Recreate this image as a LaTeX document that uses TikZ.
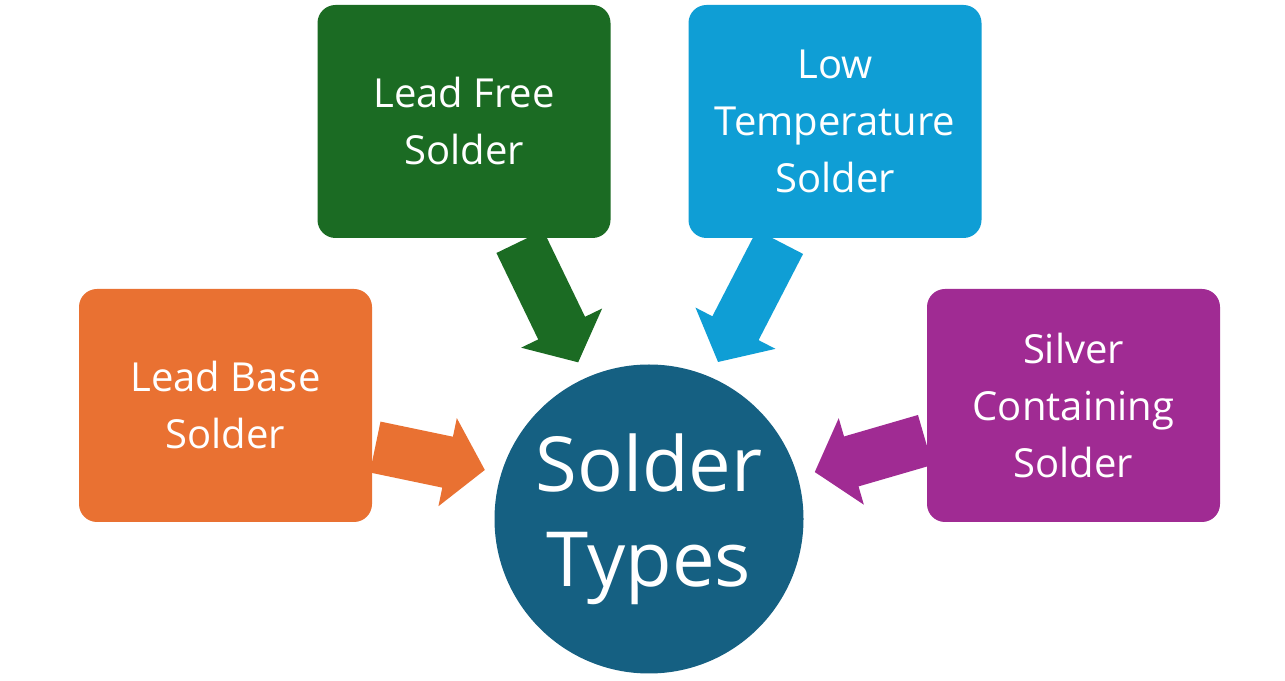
\documentclass[tikz,border=0pt]{standalone}
\usepackage{fontspec}
\setmainfont{Open Sans}
\begin{document}
\begin{tikzpicture}[x=1pt,y=1pt,
  box/.style={rounded corners=18pt,minimum width=293pt,minimum height=233pt,text=white,align=center,font=\fontsize{40}{57}\selectfont,inner sep=0pt},
  arr/.style={fill=#1,draw=none}]
\fill[white] (0,0) rectangle (1285,680);
\useasboundingbox (0,0) rectangle (1285,680);
\definecolor{cor}{HTML}{E97132}
\definecolor{cgr}{HTML}{1B6B23}
\definecolor{cbl}{HTML}{0F9ED5}
\definecolor{cpu}{HTML}{A02B93}
\definecolor{cci}{HTML}{156082}
\node[box,fill=cor] (lb) at (225.5,274.5) {Lead Base\\Solder};
\node[box,fill=cgr] (lf) at (464,558.5) {Lead Free\\Solder};
\node[box,fill=cbl] (lt) at (835,558.5) {Low\\Temperature\\Solder};
\node[box,fill=cpu] (sc) at (1073.5,274.5) {Silver\\Containing\\Solder};
\node[circle,fill=cci,minimum size=309pt,inner sep=0pt,text=white,align=center,font=\fontsize{76}{95}\selectfont] (st) at (649,161) {Solder\\Types};
\newcommand{\blockarrow}[4]{%
\begin{scope}[shift={(#1)},rotate=#2]
\fill[#3] (-#4/2,-26)--(#4/2-38,-26)--(#4/2-38,-45)--(#4/2,0)--(#4/2-38,45)--(#4/2-38,26)--(-#4/2,26)--cycle;
\end{scope}}
\blockarrow{430,221.5}{-11.8}{cor}{112}
\blockarrow{549,378}{-64.2}{cgr}{134}
\blockarrow{749,378}{-117.3}{cbl}{135}
\blockarrow{870,224}{-163.8}{cpu}{115}
\end{tikzpicture}
\end{document}
